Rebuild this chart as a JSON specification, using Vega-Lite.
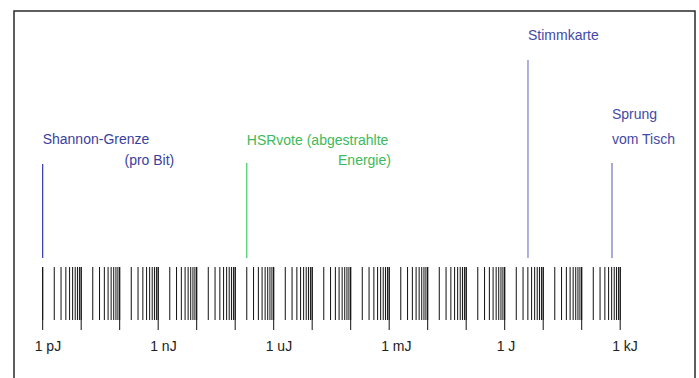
{
  "$schema": "https://vega.github.io/schema/vega-lite/v6.json",
  "width": 681,
  "height": 380,
  "autosize": {"type": "none"},
  "padding": {"left": 14, "top": 11, "right": 4, "bottom": 0},
  "background": "white",
  "config": {
    "view": {"stroke": "#2a2a2a", "strokeWidth": 1.5},
    "text": {"font": "Liberation Sans", "fontSize": 14}
  },
  "datasets": {
    "ticks": [
      {"e":1e-12,"major":true},{"e":2e-12},{"e":3e-12},{"e":4e-12},{"e":5e-12},{"e":6e-12},{"e":7e-12},{"e":8e-12},{"e":9e-12},
      {"e":1e-11,"major":true},{"e":2e-11},{"e":3e-11},{"e":4e-11},{"e":5e-11},{"e":6e-11},{"e":7e-11},{"e":8e-11},{"e":9e-11},
      {"e":1e-10,"major":true},{"e":2e-10},{"e":3e-10},{"e":4e-10},{"e":5e-10},{"e":6e-10},{"e":7e-10},{"e":8e-10},{"e":9e-10},
      {"e":1e-9,"major":true},{"e":2e-9},{"e":3e-9},{"e":4e-9},{"e":5e-9},{"e":6e-9},{"e":7e-9},{"e":8e-9},{"e":9e-9},
      {"e":1e-8,"major":true},{"e":2e-8},{"e":3e-8},{"e":4e-8},{"e":5e-8},{"e":6e-8},{"e":7e-8},{"e":8e-8},{"e":9e-8},
      {"e":1e-7,"major":true},{"e":2e-7},{"e":3e-7},{"e":4e-7},{"e":5e-7},{"e":6e-7},{"e":7e-7},{"e":8e-7},{"e":9e-7},
      {"e":1e-6,"major":true},{"e":2e-6},{"e":3e-6},{"e":4e-6},{"e":5e-6},{"e":6e-6},{"e":7e-6},{"e":8e-6},{"e":9e-6},
      {"e":1e-5,"major":true},{"e":2e-5},{"e":3e-5},{"e":4e-5},{"e":5e-5},{"e":6e-5},{"e":7e-5},{"e":8e-5},{"e":9e-5},
      {"e":1e-4,"major":true},{"e":2e-4},{"e":3e-4},{"e":4e-4},{"e":5e-4},{"e":6e-4},{"e":7e-4},{"e":8e-4},{"e":9e-4},
      {"e":1e-3,"major":true},{"e":2e-3},{"e":3e-3},{"e":4e-3},{"e":5e-3},{"e":6e-3},{"e":7e-3},{"e":8e-3},{"e":9e-3},
      {"e":1e-2,"major":true},{"e":2e-2},{"e":3e-2},{"e":4e-2},{"e":5e-2},{"e":6e-2},{"e":7e-2},{"e":8e-2},{"e":9e-2},
      {"e":1e-1,"major":true},{"e":2e-1},{"e":3e-1},{"e":4e-1},{"e":5e-1},{"e":6e-1},{"e":7e-1},{"e":8e-1},{"e":9e-1},
      {"e":1,"major":true},{"e":2},{"e":3},{"e":4},{"e":5},{"e":6},{"e":7},{"e":8},{"e":9},
      {"e":10,"major":true},{"e":20},{"e":30},{"e":40},{"e":50},{"e":60},{"e":70},{"e":80},{"e":90},
      {"e":100,"major":true},{"e":200},{"e":300},{"e":400},{"e":500},{"e":600},{"e":700},{"e":800},{"e":900},
      {"e":1000,"major":true}
    ],
    "labels": [
      {"e":1e-12,"label":"1 pJ"},
      {"e":1e-9,"label":"1 nJ"},
      {"e":1e-6,"label":"1 uJ"},
      {"e":1e-3,"label":"1 mJ"},
      {"e":1,"label":"1 J"},
      {"e":1000,"label":"1 kJ"}
    ],
    "markers": [
      {"name":"Shannon","e":1e-12,"top":153},
      {"name":"HSRvote","e":2e-7,"top":152},
      {"name":"Stimmkarte","e":4.03,"top":49},
      {"name":"Sprung","e":612,"top":152}
    ],
    "textLeft": [
      {"name":"Shannon","e":1e-12,"y":129,"text":"Shannon-Grenze"},
      {"name":"HSRvote","e":2e-7,"y":129.5,"text":"HSRvote (abgestrahlte"},
      {"name":"Stimmkarte","e":4.03,"y":24.5,"text":"Stimmkarte"},
      {"name":"Sprung","e":612,"y":104,"text":"Sprung"},
      {"name":"Sprung","e":612,"y":129,"text":"vom Tisch"}
    ],
    "textRight": [
      {"name":"Shannon","e":2.62e-9,"y":150,"text":"(pro Bit)"},
      {"name":"HSRvote","e":1.11e-3,"y":149.5,"text":"Energie)"}
    ]
  },
  "encoding": {
    "x": {"field": "e", "type": "quantitative", "axis": null,
          "scale": {"type": "log", "domain": [1.8e-13, 87700], "nice": false}}
  },
  "layer": [
    {
      "data": {"name": "ticks"},
      "mark": {"type": "rule", "stroke": "#111", "strokeWidth": 1},
      "encoding": {
        "y": {"datum": 256, "type": "quantitative", "axis": null, "scale": {"domain": [0, 380], "reverse": true, "nice": false, "zero": false}},
        "y2": {"datum": 309}
      }
    },
    {
      "data": {"name": "ticks"},
      "transform": [{"filter": "datum.major"}],
      "mark": {"type": "rule", "stroke": "#111", "strokeWidth": 1},
      "encoding": {
        "y": {"datum": 256, "type": "quantitative"},
        "y2": {"datum": 319}
      }
    },
    {
      "data": {"name": "labels"},
      "mark": {"type": "text", "align": "left", "baseline": "middle", "dx": -8, "fill": "#222"},
      "encoding": {
        "y": {"datum": 335.7, "type": "quantitative"},
        "text": {"field": "label"}
      }
    },
    {
      "data": {"name": "markers"},
      "mark": {"type": "rule", "strokeWidth": 1.2},
      "encoding": {
        "y": {"field": "top", "type": "quantitative"},
        "y2": {"datum": 247},
        "stroke": {"field": "name", "type": "nominal", "legend": null,
                   "scale": {"domain": ["Shannon","HSRvote","Stimmkarte","Sprung"],
                             "range": ["#3038a8","#45c865","#767cc4","#6c72c0"]}}
      }
    },
    {
      "data": {"name": "textLeft"},
      "mark": {"type": "text", "align": "left", "baseline": "middle"},
      "encoding": {
        "y": {"field": "y", "type": "quantitative"},
        "text": {"field": "text"},
        "fill": {"field": "name", "type": "nominal", "legend": null,
                 "scale": {"domain": ["Shannon","HSRvote","Stimmkarte","Sprung"],
                           "range": ["#3a3f9e","#3cba5a","#4349a6","#4349a6"]}}
      }
    },
    {
      "data": {"name": "textRight"},
      "mark": {"type": "text", "align": "right", "baseline": "middle"},
      "encoding": {
        "y": {"field": "y", "type": "quantitative"},
        "text": {"field": "text"},
        "fill": {"field": "name", "type": "nominal", "legend": null}
      }
    }
  ]
}
